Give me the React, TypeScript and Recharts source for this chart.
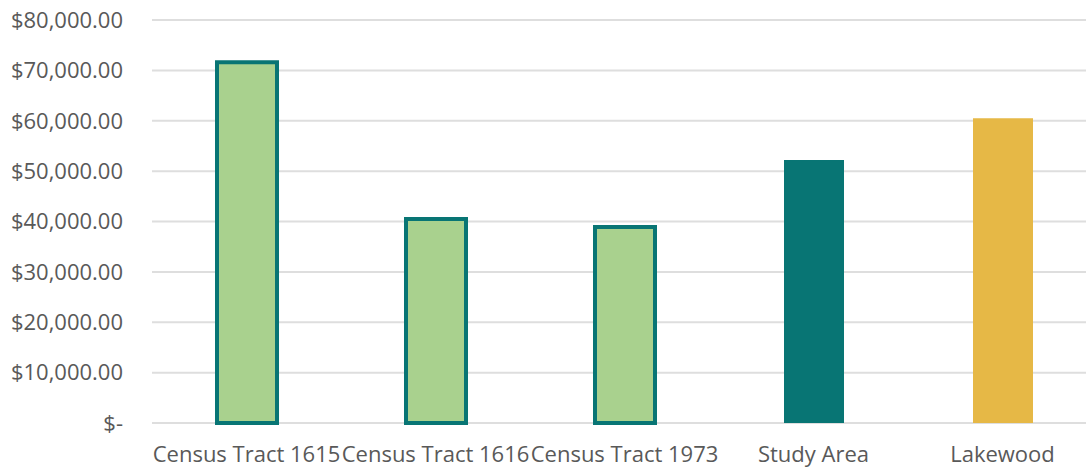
import { BarChart, Bar, XAxis, YAxis, CartesianGrid, Cell } from 'recharts';

const categories = ['Census Tract 1615', 'Census Tract 1616', 'Census Tract 1973', 'Study Area', 'Lakewood'];
const incomes = [71600, 40500, 38900, 52200, 60500];
const yTicks = [0, 10000, 20000, 30000, 40000, 50000, 60000, 70000, 80000];

const TEAL = '#087574';
const LIGHT_GREEN = '#a9d18e';
const GOLD = '#e6b846';

const fills = [LIGHT_GREEN, LIGHT_GREEN, LIGHT_GREEN, TEAL, GOLD];
const outlined = [true, true, true, false, false];

const data = categories.map((name, i) => ({ name, value: incomes[i] }));

const formatMoney = (v: number) =>
  v === 0
    ? '$-'
    : '$' + v.toLocaleString('en-US', { minimumFractionDigits: 2, maximumFractionDigits: 2 });

const tickStyle = { fontSize: 22, fill: '#595959', fontFamily: '"Open Sans", sans-serif' };

export default function App() {
  return (
    <div style={{ position: 'absolute', left: 0, top: 0, width: 1086, height: 467, overflow: 'hidden', background: '#fff' }}>
      <BarChart width={1100} height={467} data={data} margin={{ top: 20, right: 3, bottom: 0, left: 0 }}>
        <CartesianGrid vertical={false} stroke="#dedede" strokeWidth={2} />
        <XAxis
          dataKey="name"
          interval={0}
          axisLine={false}
          tickLine={false}
          tickSize={0}
          tickMargin={23}
          height={44}
          tick={tickStyle}
        />
        <YAxis
          domain={[0, 80000]}
          ticks={yTicks}
          tickFormatter={formatMoney}
          axisLine={false}
          tickLine={false}
          tickSize={0}
          tickMargin={29}
          width={152}
          tick={tickStyle}
        />
        <Bar dataKey="value" barSize={60} isAnimationActive={false}>
          {data.map((d, i) => (
            <Cell
              key={d.name}
              fill={fills[i]}
              stroke={outlined[i] ? TEAL : 'none'}
              strokeWidth={outlined[i] ? 4 : 0}
            />
          ))}
        </Bar>
      </BarChart>
    </div>
  );
}
